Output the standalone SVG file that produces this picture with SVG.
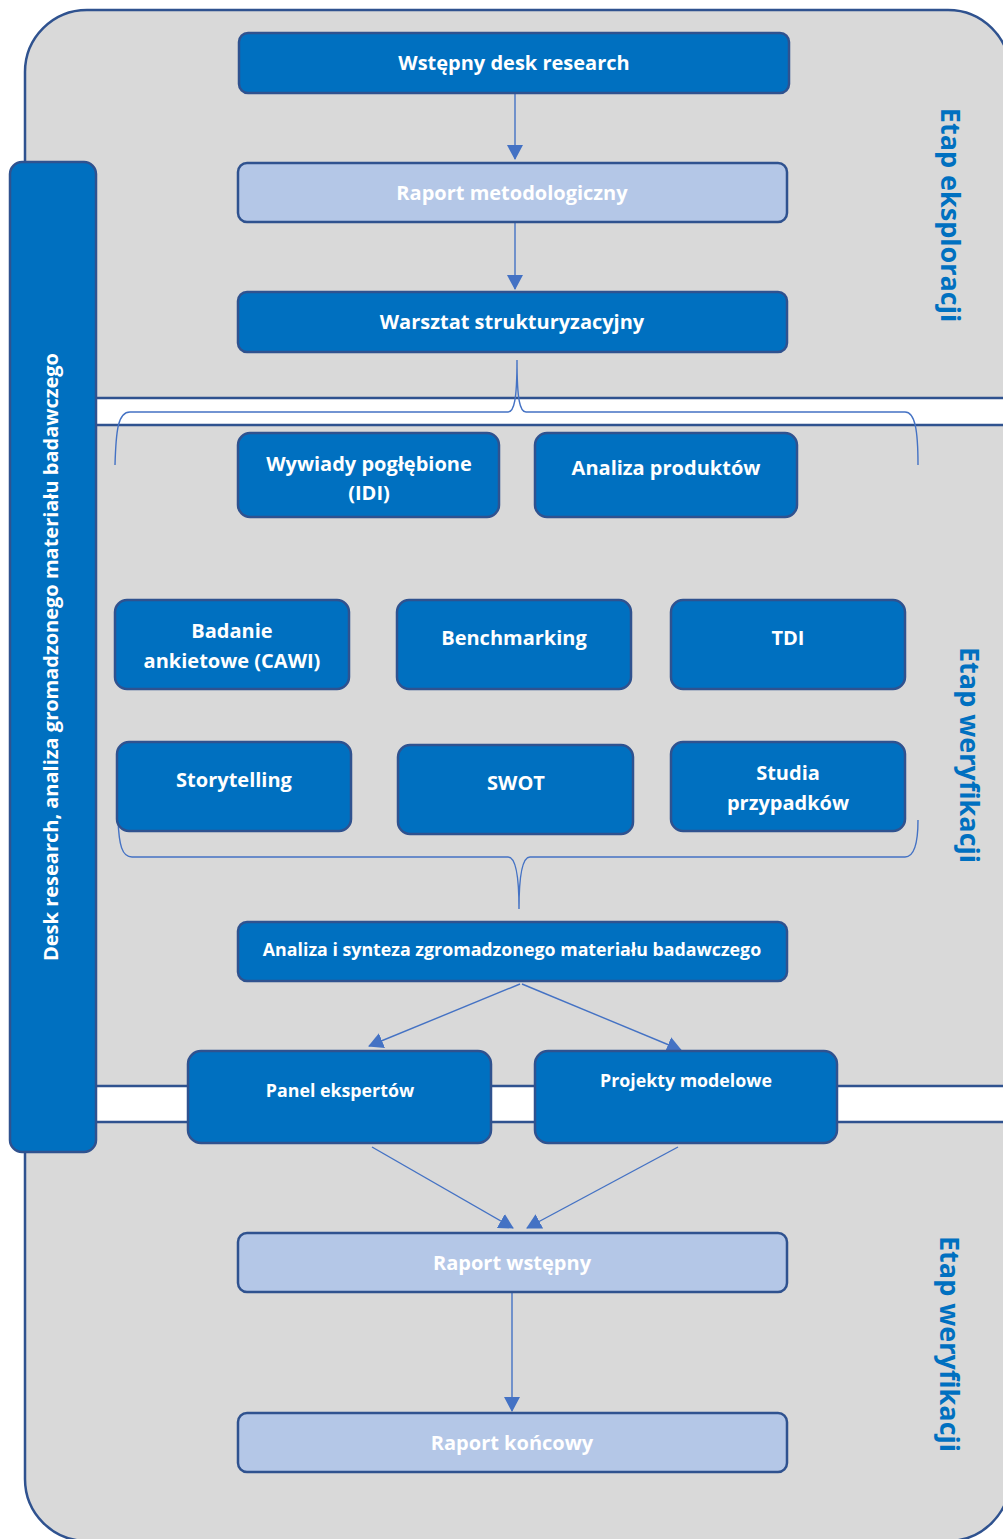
<svg xmlns="http://www.w3.org/2000/svg" width="1003" height="1539" viewBox="0 0 1003 1539">
<style>
.bg{fill:#D9D9D9;stroke:#2F528F;stroke-width:2.5}
.band{fill:#FFFFFF}
.bandline{stroke:#2F528F;stroke-width:2.5}
.dk{fill:#0070C0;stroke:#2F528F;stroke-width:2.5}
.lt{fill:#B4C7E7;stroke:#2F528F;stroke-width:2.5}
.t{font-family:"Open Sans","Liberation Sans",sans-serif;font-weight:bold;fill:#FFFFFF;text-anchor:middle}
.side{font-family:"Open Sans","Liberation Sans",sans-serif;font-weight:bold;fill:#0070C0;text-anchor:middle;font-size:27px}
.c{fill:none;stroke:#4472C4;stroke-width:1.4}
</style>
<defs>
<marker id="ah" markerUnits="userSpaceOnUse" markerWidth="16" markerHeight="16" refX="14" refY="8" orient="auto">
<path d="M0,0 L15,8 L0,16 Z" fill="#4472C4"/>
</marker>
</defs>
<g id="background">
<rect class="bg" x="25" y="10" width="985" height="1531" rx="62" ry="62"/>
<rect class="band" x="60" y="398" width="960" height="27"/>
<line class="bandline" x1="60" y1="398" x2="1010" y2="398"/>
<line class="bandline" x1="60" y1="425" x2="1010" y2="425"/>
<rect class="band" x="60" y="1086" width="960" height="36"/>
<line class="bandline" x1="60" y1="1086" x2="1010" y2="1086"/>
<line class="bandline" x1="60" y1="1122" x2="1010" y2="1122"/>
</g>
<g id="side-bar">
<rect class="dk" x="10" y="162" width="86" height="990" rx="12" ry="12"/>
<text class="t" font-size="20" transform="translate(58,657) rotate(-90)">Desk research, analiza gromadzonego materiału badawczego</text>
</g>
<g id="label-eksploracji">
<text class="side" transform="translate(941,215) rotate(90)">Etap eksploracji</text>
</g>
<g id="label-weryfikacji-1">
<text class="side" transform="translate(960,755) rotate(90)">Etap weryfikacji</text>
</g>
<g id="label-weryfikacji-2">
<text class="side" transform="translate(940,1344) rotate(90)">Etap weryfikacji</text>
</g>
<g id="connectors">
<line class="c" x1="515" y1="94" x2="515" y2="159" marker-end="url(#ah)"/>
<line class="c" x1="515" y1="223" x2="515" y2="289" marker-end="url(#ah)"/>
<path class="c" d="M115,465 C116,430 118,412 130,412 L508,412 C514,412 517,400 517,360 C517,400 520,412 526,412 L905,412 C915,412 918,430 918,465"/>
<path class="c" d="M118,820 C119,845 122,857 132,857 L508,857 C514,857 519,870 519,909 C519,870 524,857 530,857 L905,857 C914,857 918,845 918,820"/>
<line class="c" x1="520" y1="984" x2="369" y2="1046" marker-end="url(#ah)"/>
<line class="c" x1="522" y1="984" x2="681" y2="1050" marker-end="url(#ah)"/>
<line class="c" x1="372" y1="1147" x2="513" y2="1228" marker-end="url(#ah)"/>
<line class="c" x1="678" y1="1147" x2="527" y2="1228" marker-end="url(#ah)"/>
<line class="c" x1="512" y1="1293" x2="512" y2="1411" marker-end="url(#ah)"/>
</g>
<g id="n-wstepny">
<rect class="dk" x="239" y="33" width="550" height="60" rx="9"/>
<text class="t" font-size="20" x="514" y="70">Wstępny desk research</text>
</g>
<g id="n-raport-met">
<rect class="lt" x="238" y="163" width="549" height="59" rx="9"/>
<text class="t" font-size="20" x="512" y="200">Raport metodologiczny</text>
</g>
<g id="n-warsztat">
<rect class="dk" x="238" y="292" width="549" height="60" rx="9"/>
<text class="t" font-size="20" x="512" y="329">Warsztat strukturyzacyjny</text>
</g>
<g id="n-idi">
<rect class="dk" x="238" y="433" width="261" height="84" rx="12"/>
<text class="t" font-size="20" x="369" y="471">Wywiady pogłębione</text>
<text class="t" font-size="20" x="369" y="500">(IDI)</text>
</g>
<g id="n-analiza-prod">
<rect class="dk" x="535" y="433" width="262" height="84" rx="12"/>
<text class="t" font-size="20" x="666" y="475">Analiza produktów</text>
</g>
<g id="n-cawi">
<rect class="dk" x="115" y="600" width="234" height="89" rx="12"/>
<text class="t" font-size="20" x="232" y="638">Badanie</text>
<text class="t" font-size="20" x="232" y="668">ankietowe (CAWI)</text>
</g>
<g id="n-benchmarking">
<rect class="dk" x="397" y="600" width="234" height="89" rx="12"/>
<text class="t" font-size="20" x="514" y="645">Benchmarking</text>
</g>
<g id="n-tdi">
<rect class="dk" x="671" y="600" width="234" height="89" rx="12"/>
<text class="t" font-size="20" x="788" y="645">TDI</text>
</g>
<g id="n-storytelling">
<rect class="dk" x="117" y="742" width="234" height="89" rx="12"/>
<text class="t" font-size="20" x="234" y="787">Storytelling</text>
</g>
<g id="n-swot">
<rect class="dk" x="398" y="745" width="235" height="89" rx="12"/>
<text class="t" font-size="20" x="516" y="790">SWOT</text>
</g>
<g id="n-studia">
<rect class="dk" x="671" y="742" width="234" height="89" rx="12"/>
<text class="t" font-size="20" x="788" y="780">Studia</text>
<text class="t" font-size="20" x="788" y="810">przypadków</text>
</g>
<g id="n-synteza">
<rect class="dk" x="238" y="922" width="549" height="59" rx="9"/>
<text class="t" font-size="17.8" x="512" y="956">Analiza i synteza zgromadzonego materiału badawczego</text>
</g>
<g id="n-panel">
<rect class="dk" x="188" y="1051" width="303" height="92" rx="13"/>
<text class="t" font-size="17.8" x="340" y="1097">Panel ekspertów</text>
</g>
<g id="n-projekty">
<rect class="dk" x="535" y="1051" width="302" height="92" rx="13"/>
<text class="t" font-size="17.8" x="686" y="1087">Projekty modelowe</text>
</g>
<g id="n-raport-wst">
<rect class="lt" x="238" y="1233" width="549" height="59" rx="9"/>
<text class="t" font-size="20" x="512" y="1270">Raport wstępny</text>
</g>
<g id="n-raport-konc">
<rect class="lt" x="238" y="1413" width="549" height="59" rx="9"/>
<text class="t" font-size="20" x="512" y="1450">Raport końcowy</text>
</g>
</svg>
